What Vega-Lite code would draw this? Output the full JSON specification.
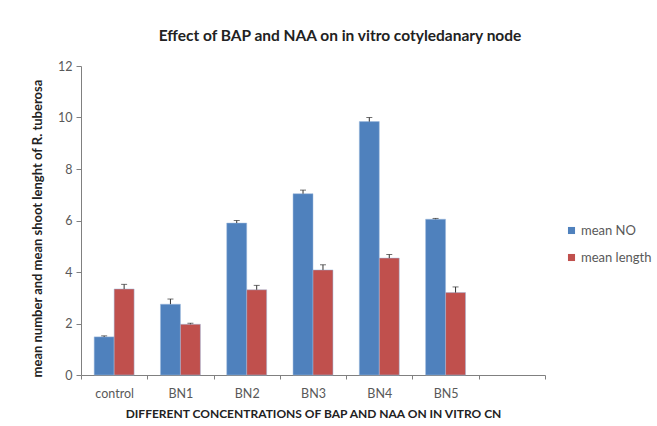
{
  "$schema": "https://vega.github.io/schema/vega-lite/v6.json",
  "width": 464,
  "height": 309,
  "autosize": {"type": "none"},
  "padding": {"left": 81, "top": 66, "right": 112, "bottom": 51},
  "background": "white",
  "config": {
    "view": {"stroke": null},
    "font": "Lato",
    "axis": {"grid": false, "domainColor": "#808080", "tickColor": "#808080", "labelColor": "#595959", "labelFont": "Lato", "labelFontSize": 12.5, "titleFont": "Lato", "titleFontWeight": "bold", "titleColor": "#222222"}
  },
  "title": {"text": "Effect of BAP and NAA on in vitro cotyledanary node", "font": "Lato", "fontSize": 15.5, "fontWeight": "bold", "color": "#222222", "anchor": "middle", "dx": 27, "offset": 16},
  "data": {"values": [
    {"cat": "control", "series": "mean NO", "value": 1.48, "hi": 1.52},
    {"cat": "control", "series": "mean length", "value": 3.34, "hi": 3.52},
    {"cat": "BN1", "series": "mean NO", "value": 2.75, "hi": 2.95},
    {"cat": "BN1", "series": "mean length", "value": 1.97, "hi": 2.01},
    {"cat": "BN2", "series": "mean NO", "value": 5.9, "hi": 6.0},
    {"cat": "BN2", "series": "mean length", "value": 3.31, "hi": 3.48},
    {"cat": "BN3", "series": "mean NO", "value": 7.04, "hi": 7.18},
    {"cat": "BN3", "series": "mean length", "value": 4.08, "hi": 4.28},
    {"cat": "BN4", "series": "mean NO", "value": 9.84, "hi": 10.0},
    {"cat": "BN4", "series": "mean length", "value": 4.54, "hi": 4.68},
    {"cat": "BN5", "series": "mean NO", "value": 6.05, "hi": 6.08},
    {"cat": "BN5", "series": "mean length", "value": 3.2, "hi": 3.42}
  ]},
  "encoding": {
    "x": {"field": "cat", "type": "nominal", "sort": null,
      "scale": {"domain": ["control", "BN1", "BN2", "BN3", "BN4", "BN5", " "], "paddingInner": 0, "paddingOuter": 0},
      "axis": {"title": "DIFFERENT CONCENTRATIONS OF BAP AND NAA ON IN VITRO CN", "titleFontSize": 12, "labelAngle": 0, "tickBand": "extent", "tickSize": 4, "labelPadding": 8, "titlePadding": 9}},
    "xOffset": {"field": "series", "type": "nominal", "scale": {"domain": ["mean NO", "mean length"], "paddingInner": 0, "paddingOuter": 0.66}}
  },
  "layer": [
    {"mark": {"type": "bar", "stroke": "#9db8dc", "strokeWidth": 0.5},
      "encoding": {
        "y": {"field": "value", "type": "quantitative", "scale": {"domain": [0, 12]},
          "axis": {"values": [0, 2, 4, 6, 8, 10, 12], "title": "mean number and mean shoot lenght of R. tuberosa", "titleFontSize": 13, "titleY": 162, "tickSize": 5, "labelPadding": 4, "titlePadding": 13}},
        "color": {"field": "series", "type": "nominal", "scale": {"domain": ["mean NO", "mean length"], "range": ["#4F81BD", "#C0504D"]},
          "legend": {"title": null, "orient": "none", "legendX": 484, "legendY": 158, "symbolType": "square", "symbolSize": 50, "symbolStrokeWidth": 0, "labelFontSize": 13, "labelColor": "#595959", "rowPadding": 13, "labelOffset": 3}}
      }},
    {"mark": {"type": "rule", "color": "#333333", "strokeWidth": 1},
      "encoding": {"y": {"field": "value", "type": "quantitative"}, "y2": {"field": "hi"}}},
    {"mark": {"type": "tick", "color": "#333333", "thickness": 1, "size": 6},
      "encoding": {"y": {"field": "hi", "type": "quantitative"}}}
  ]
}
